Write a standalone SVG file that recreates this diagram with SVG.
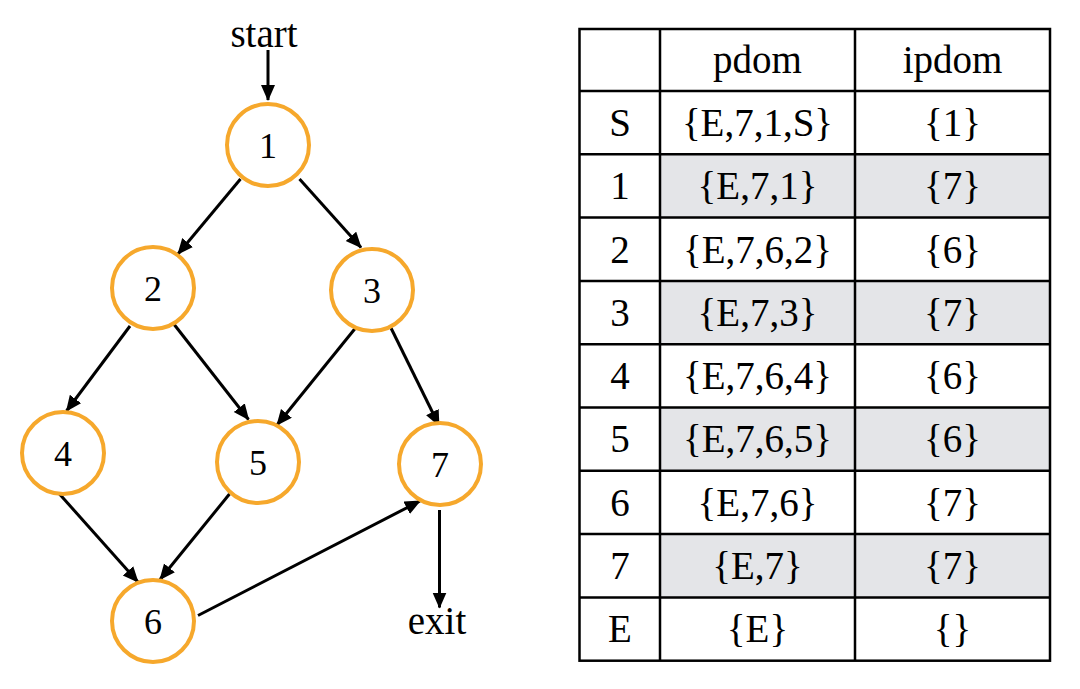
<svg xmlns="http://www.w3.org/2000/svg" width="1080" height="689" viewBox="0 0 1080 689">
<style>
.node circle{fill:#fff;stroke:#f6a82c;stroke-width:4}
.node text{font-family:"Liberation Serif","Times New Roman",serif;font-size:36px;text-anchor:middle;fill:#000}
.lbl{font-family:"Liberation Serif","Times New Roman",serif;font-size:39px;text-anchor:middle;fill:#000}
.edge{stroke:#000;stroke-width:3;fill:none;marker-end:url(#ah)}
.grid{stroke:#000;stroke-width:2.5;fill:none}
.shade{fill:#e4e5e8}
.cell{font-family:"Liberation Serif","Times New Roman",serif;font-size:39px;text-anchor:middle;fill:#000}
</style>
<defs>
<marker id="ah" markerUnits="userSpaceOnUse" markerWidth="18" markerHeight="16" refX="15" refY="7" orient="auto">
<path d="M0,0 L16,7 L0,14 z" fill="#000"/>
</marker>
</defs>
<rect width="1080" height="689" fill="#fff"/>

<text class="lbl" x="264" y="47">start</text>
<text class="lbl" x="437" y="634">exit</text>

<g id="connectors">
<line class="edge" x1="268" y1="50" x2="268" y2="100"/>
<line class="edge" x1="240.5" y1="179" x2="178" y2="254"/>
<line class="edge" x1="299.5" y1="179" x2="361" y2="247.5"/>
<line class="edge" x1="130" y1="326" x2="66.5" y2="411"/>
<line class="edge" x1="173" y1="323" x2="248.5" y2="419.5"/>
<line class="edge" x1="355.5" y1="328" x2="277" y2="425"/>
<line class="edge" x1="391" y1="328" x2="439" y2="425.5"/>
<line class="edge" x1="59.5" y1="494" x2="138" y2="582"/>
<line class="edge" x1="229.5" y1="494" x2="160" y2="579.5"/>
<line class="edge" x1="198" y1="615.5" x2="420" y2="501"/>
<line class="edge" x1="439.5" y1="510" x2="439.5" y2="607.5"/>
</g>

<g id="n1" class="node"><circle cx="268" cy="145" r="41"/><text x="268" y="157.5">1</text></g>
<g id="n2" class="node"><circle cx="153" cy="288" r="41"/><text x="153" y="300.5">2</text></g>
<g id="n3" class="node"><circle cx="372" cy="290" r="41"/><text x="372" y="302.5">3</text></g>
<g id="n4" class="node"><circle cx="63" cy="453" r="41"/><text x="63" y="465.5">4</text></g>
<g id="n5" class="node"><circle cx="258" cy="462" r="41"/><text x="258" y="474.5">5</text></g>
<g id="n7" class="node"><circle cx="440" cy="464" r="41"/><text x="440" y="476.5">7</text></g>
<g id="n6" class="node"><circle cx="153" cy="621" r="41"/><text x="153" y="633.5">6</text></g>

<g id="table">
<rect class="shade" x="660" y="154.3" width="390" height="63.3"/>
<rect class="shade" x="660" y="280.9" width="390" height="63.3"/>
<rect class="shade" x="660" y="407.5" width="390" height="63.3"/>
<rect class="shade" x="660" y="534.1" width="390" height="63.3"/>
<rect class="grid" x="579.5" y="29" width="470.5" height="631.7"/>
<path class="grid" d="M660,29V660.7M855,29V660.7M579.5,91H1050M579.5,154.3H1050M579.5,217.6H1050M579.5,280.9H1050M579.5,344.2H1050M579.5,407.5H1050M579.5,470.8H1050M579.5,534.1H1050M579.5,597.4H1050"/>
<text class="cell" x="757.5" y="73">pdom</text>
<text class="cell" x="952.5" y="73">ipdom</text>
<text class="cell" x="620" y="136">S</text><text class="cell" x="757.5" y="136">{E,7,1,S}</text><text class="cell" x="952.5" y="136">{1}</text>
<text class="cell" x="620" y="199">1</text><text class="cell" x="757.5" y="199">{E,7,1}</text><text class="cell" x="952.5" y="199">{7}</text>
<text class="cell" x="620" y="262.5">2</text><text class="cell" x="757.5" y="262.5">{E,7,6,2}</text><text class="cell" x="952.5" y="262.5">{6}</text>
<text class="cell" x="620" y="325.5">3</text><text class="cell" x="757.5" y="325.5">{E,7,3}</text><text class="cell" x="952.5" y="325.5">{7}</text>
<text class="cell" x="620" y="389">4</text><text class="cell" x="757.5" y="389">{E,7,6,4}</text><text class="cell" x="952.5" y="389">{6}</text>
<text class="cell" x="620" y="452">5</text><text class="cell" x="757.5" y="452">{E,7,6,5}</text><text class="cell" x="952.5" y="452">{6}</text>
<text class="cell" x="620" y="515.5">6</text><text class="cell" x="757.5" y="515.5">{E,7,6}</text><text class="cell" x="952.5" y="515.5">{7}</text>
<text class="cell" x="620" y="578.5">7</text><text class="cell" x="757.5" y="578.5">{E,7}</text><text class="cell" x="952.5" y="578.5">{7}</text>
<text class="cell" x="620" y="642">E</text><text class="cell" x="757.5" y="642">{E}</text><text class="cell" x="952.5" y="642">{}</text>
</g>
</svg>
